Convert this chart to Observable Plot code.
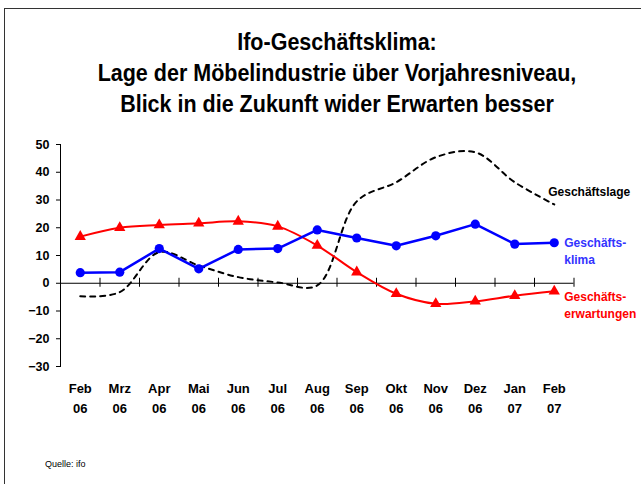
<!DOCTYPE html>
<html>
<head>
<meta charset="utf-8">
<script src="https://cdn.jsdelivr.net/npm/d3@7"></script>
<script src="https://cdn.jsdelivr.net/npm/@observablehq/plot@0.6"></script>
<style>
  html, body { margin: 0; padding: 0; background: #fff; overflow: hidden; }
  #wrap { position: relative; width: 641px; height: 484px; overflow: hidden; font-family: "Liberation Sans", Arial, sans-serif; }
  #border { position: absolute; left: 4px; top: 8px; width: 800px; height: 800px; border: 1.5px solid #333; box-sizing: border-box; }
  #title { position: absolute; left: 0; top: 27px; width: 674px; text-align: center; font-weight: bold; font-size: 21.5px; line-height: 28px; color: #000; transform: scaleY(1.1); transform-origin: 0 0; white-space: nowrap; }
  #chart { position: absolute; left: 0; top: 120px; }
  #source { position: absolute; left: 45px; top: 459px; font-size: 9px; color: #000; }
</style>
</head>
<body>
<div id="wrap">
  <div id="border"></div>
  <div id="title">Ifo-Geschäftsklima:<br>Lage der Möbelindustrie über Vorjahresniveau,<br>Blick in die Zukunft wider Erwarten besser</div>
  <div id="chart"></div>
  <div id="source">Quelle: ifo</div>
</div>
<script>
const months = ["Feb\n06","Mrz\n06","Apr\n06","Mai\n06","Jun\n06","Jul\n06","Aug\n06","Sep\n06","Okt\n06","Nov\n06","Dez\n06","Jan\n07","Feb\n07"];
const klima = [3.8, 4.0, 12.5, 5.2, 12.2, 12.5, 19.2, 16.3, 13.5, 17.1, 21.3, 14.1, 14.6];
const erwartungen = [16.8, 20.0, 21.0, 21.6, 22.3, 20.5, 13.6, 4.0, -3.8, -7.4, -6.5, -4.5, -2.9];
const lage = [-4.7, -3.2, 11.2, 6.4, 2.2, 0.3, -0.8, 29.5, 36.4, 45.4, 47.2, 36.4, 28.4];
const yTicks = [-30, -20, -10, 0, 10, 20, 30, 40, 50];

const idx = months.map((d, i) => i);
const bounds = [...idx, months.length].map(i => i - 0.5);
const last = months.length - 1;
const font = "Liberation Sans, Arial, sans-serif";

const chart = Plot.plot({
  width: 641,
  height: 320,
  marginTop: 24,
  marginBottom: 74,
  marginLeft: 60,
  marginRight: 67.5,
  style: { fontFamily: font, background: "transparent", overflow: "visible" },
  x: { type: "linear", domain: [-0.5, last + 0.5] },
  y: { domain: [-30, 50] },
  marks: [
    Plot.frame({ anchor: "left", stroke: "#000", strokeWidth: 1 }),
    Plot.ruleY([0], { stroke: "#000", strokeWidth: 1 }),
    Plot.ruleX(bounds, { x: d => d, y1: 0, y2: 0, insetTop: -5, insetBottom: -4, stroke: "#000", strokeWidth: 1 }),
    Plot.axisY({ ticks: yTicks, tickSize: 4, tickPadding: 7, fontSize: 12.5, fontWeight: "bold", fill: "#000", stroke: null, label: null }),
    Plot.axisY({ ticks: yTicks, tickSize: 4, text: null, stroke: "#000" }),
    Plot.axisX({ ticks: idx, tickFormat: i => months[i], tickSize: 0, tickPadding: 12.5, fontSize: 13, fontWeight: "bold", fill: "#000", lineHeight: 1.54, label: null }),
    Plot.lineY(lage, { x: (d, i) => i, y: d => d, stroke: "#000", strokeWidth: 2, strokeDasharray: "5,5", curve: "catmull-rom" }),
    Plot.lineY(erwartungen, { x: (d, i) => i, y: d => d, stroke: "#ff0000", strokeWidth: 2, curve: "catmull-rom" }),
    Plot.dot(erwartungen, { x: (d, i) => i, y: d => d, symbol: "triangle", r: 4.2, fill: "#ff0000", stroke: null }),
    Plot.lineY(klima, { x: (d, i) => i, y: d => d, stroke: "#0000ff", strokeWidth: 2.5 }),
    Plot.dot(klima, { x: (d, i) => i, y: d => d, r: 4.6, fill: "#0000ff", stroke: null }),
    Plot.text([lage[last]], { x: last, y: d => d, text: () => "Geschäftslage", dx: -6, dy: -12, textAnchor: "start", fontSize: 12, fontWeight: "bold", fill: "#000" }),
    Plot.text([klima[last]], { x: last, y: d => d, text: () => "Geschäfts-\nklima", dx: 10, dy: 7, textAnchor: "start", fontSize: 12, fontWeight: "bold", fill: "#3333ff", lineHeight: 1.4 }),
    Plot.text([erwartungen[last]], { x: last, y: d => d, text: () => "Geschäfts-\nerwartungen", dx: 10, dy: 13, textAnchor: "start", fontSize: 12, fontWeight: "bold", fill: "#ff0000", lineHeight: 1.4 })
  ]
});
document.getElementById("chart").appendChild(chart);
</script>
</body>
</html>
